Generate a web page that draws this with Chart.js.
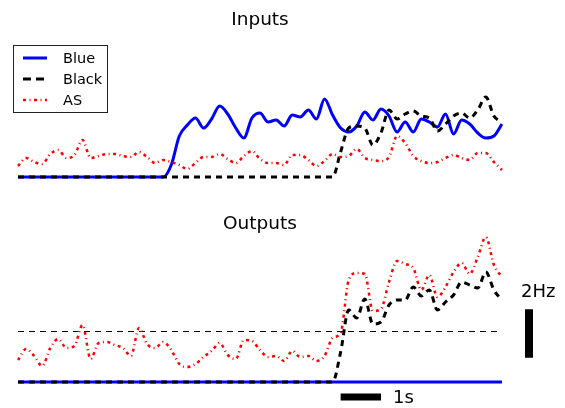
<!DOCTYPE html>
<html><head><meta charset="utf-8">
<script src="https://cdn.jsdelivr.net/npm/chart.js@4/dist/chart.umd.min.js"></script>
<style>html,body{margin:0;padding:0;background:#fff}canvas{display:block}</style>
</head><body>
<canvas id="c" width="565" height="408"></canvas>
<script>
// time in seconds
const timeS = [0,0.2,0.4,0.6,0.8,1.0,1.2,1.4,1.6,1.8,2.0,2.2,2.4,2.6,2.8,3.0,3.2,3.4,3.6,3.8,
  4.0,4.2,4.4,4.6,4.8,5.0,5.2,5.4,5.6,5.8,6.0,6.2,6.4,6.6,6.8,7.0,7.2,7.4,7.6,7.8,
  8.0,8.2,8.4,8.6,8.8,9.0,9.2,9.4,9.6,9.8,10.0,10.2,10.4,10.6,10.8,11.0,11.2,11.4,11.6,11.8,12.0];

// Inputs panel
const blueIn = [0,0,0,0,0,0,0,0,0,0,0,0,0,0,0,0,0,0,0,0.48,
  1.64,2.08,2.36,1.96,2.32,2.84,2.52,1.96,1.56,2.36,2.56,2.2,2.28,2.04,2.48,2.4,2.68,2.32,3.12,2.48,
  1.96,1.8,2.04,2.6,2.28,2.72,2.44,1.8,2.2,1.8,2.32,2.2,2.0,2.52,1.72,2.28,2.12,1.76,1.56,1.64,2.12];
const blackIn = [0,0,0,0,0,0,0,0,0,0,0,0,0,0,0,0,0,0,0,0,
  0,0,0,0,0,0,0,0,0,0,0,0,0,0,0,0,0,0,0,0,
  1.0,1.96,2.04,1.96,1.28,1.76,2.68,2.32,2.52,2.64,2.44,2.36,1.84,2.12,2.44,2.56,2.36,2.68,3.2,2.44,2.2];
const asIn = [0.44,0.76,0.6,0.52,0.92,1.08,0.76,0.88,1.48,0.76,0.84,0.92,0.92,0.84,0.8,1.0,0.8,0.56,0.68,0.6,
  0.48,0.32,0.56,0.8,0.8,0.92,0.72,0.56,0.84,1.04,0.72,0.56,0.56,0.48,0.88,0.88,0.68,0.44,0.64,0.92,
  0.8,0.84,1.12,0.76,0.68,0.64,0.8,1.64,1.36,0.84,0.64,0.56,0.6,0.76,0.88,0.76,0.68,0.96,0.96,0.6,0.28];

// Outputs panel (Hz)
const blueOut = [0,0,0,0,0,0,0,0,0,0,0,0,0,0,0,0,0,0,0,0,
  0,0,0,0,0,0,0,0,0,0,0,0,0,0,0,0,0,0,0,0,
  0,0,0,0,0,0,0,0,0,0,0,0,0,0,0,0,0,0,0,0,0];
const blackOut = [0,0,0,0,0,0,0,0,0,0,0,0,0,0,0,0,0,0,0,0,
  0,0,0,0,0,0,0,0,0,0,0,0,0,0,0,0,0,0,0,0,
  1.2,2.88,2.56,3.32,2.32,2.4,3.08,3.28,3.28,3.8,3.44,3.68,2.88,3.2,3.48,4.0,3.88,3.76,4.4,3.68,3.28];
const asOut = [0.88,1.32,1.04,0.64,1.36,1.72,1.36,1.44,2.28,0.92,1.56,1.6,1.48,1.36,1.04,2.16,1.52,1.36,1.6,1.28,
  0.72,0.6,0.72,1.0,1.24,1.56,1.08,0.92,1.68,1.64,1.28,1.0,1.04,0.84,1.24,1.0,1.04,0.84,1.04,1.76,
  1.96,4.08,4.36,4.32,2.84,2.92,4.0,4.84,4.72,4.56,3.68,4.28,3.4,3.8,4.4,4.76,4.32,5.0,5.8,4.68,4.2];

const thresholdHz = 2.02;
const thresholdSpan = [0, 12];
// scale bars: 2 Hz vertical, 1 s horizontal
const hzBarX = 12.67, hzBarY = [0.97, 2.91];
const secBarX = [8, 9], secBarY = -0.6;

const seriesLabels = ['Blue', 'Black', 'AS'];
const panelTitles = ['Inputs', 'Outputs'];

const pts = (arr) => arr.map((v, i) => ({x: timeS[i], y: v}));

const BLUE = 'rgb(0,0,255)', BLACK = '#000', RED = 'rgb(255,0,0)';
const blackDash = [6, 5], asDash = [3, 3.5, 1, 3.5];

const common = {pointRadius: 0, fill: false, cubicInterpolationMode: 'monotone', borderCapStyle: 'butt'};

const datasets = [
  Object.assign({label: 'Blue in', data: pts(blueIn), yAxisID: 'yIn', borderColor: BLUE, borderWidth: 3, order: 3}, common),
  Object.assign({label: 'Black in', data: pts(blackIn), yAxisID: 'yIn', borderColor: BLACK, borderWidth: 3, borderDash: blackDash, order: 2}, common),
  Object.assign({label: 'AS in', data: pts(asIn), yAxisID: 'yIn', borderColor: RED, borderWidth: 2.5, borderDash: asDash, order: 1}, common),
  Object.assign({label: 'Blue out', data: pts(blueOut), yAxisID: 'yOut', borderColor: BLUE, borderWidth: 3, order: 3}, common),
  Object.assign({label: 'Black out', data: pts(blackOut), yAxisID: 'yOut', borderColor: BLACK, borderWidth: 3, borderDash: blackDash, order: 2}, common),
  Object.assign({label: 'AS out', data: pts(asOut), yAxisID: 'yOut', borderColor: RED, borderWidth: 2.5, borderDash: asDash, order: 1}, common),
  {label: 'threshold', data: thresholdSpan.map(x => ({x, y: thresholdHz})), yAxisID: 'yOut', borderColor: BLACK, borderWidth: 1, borderDash: [6, 5], pointRadius: 0, order: 4},
  {label: '2Hz bar', data: hzBarY.map(y => ({x: hzBarX, y})), yAxisID: 'yOut', borderColor: BLACK, borderWidth: 8, borderCapStyle: 'butt', pointRadius: 0, order: 5},
  {label: '1s bar', data: secBarX.map(x => ({x, y: secBarY})), yAxisID: 'yOut', borderColor: BLACK, borderWidth: 7, borderCapStyle: 'butt', pointRadius: 0, order: 5}
];

const FONT = '"DejaVu Sans", sans-serif';

const overlay = {
  id: 'overlay',
  afterDatasetsDraw(chart) {
    const ctx = chart.ctx;
    const xs = chart.scales.x, yi = chart.scales.yIn, yo = chart.scales.yOut;
    ctx.save();
    ctx.fillStyle = '#000';
    ctx.textBaseline = 'alphabetic';
    ctx.textAlign = 'center';
    ctx.font = '18.5px ' + FONT;
    ctx.fillText(panelTitles[0], xs.getPixelForValue(6), yi.getPixelForValue(6.08));
    ctx.fillText(panelTitles[1], xs.getPixelForValue(6), yo.getPixelForValue(6.12));
    // scale bar labels
    ctx.textAlign = 'left';
    ctx.font = '18px ' + FONT;
    ctx.fillText('2Hz', xs.getPixelForValue(hzBarX) - 8, yo.getPixelForValue(3.4));
    ctx.fillText('1s', xs.getPixelForValue(secBarX[1]) + 12, yo.getPixelForValue(-0.84));
    // legend
    const bx = 13.5, by = 45.5, bw = 94, bh = 67;
    ctx.fillStyle = '#fff';
    ctx.fillRect(bx, by, bw, bh);
    ctx.strokeStyle = '#222';
    ctx.lineWidth = 1;
    ctx.strokeRect(bx, by, bw, bh);
    const styles = [
      {c: BLUE, w: 3, d: []},
      {c: BLACK, w: 3, d: [8, 5]},
      {c: RED, w: 2.5, d: asDash}
    ];
    const rows = [58, 79, 100];
    ctx.font = '14.5px ' + FONT;
    ctx.textBaseline = 'middle';
    seriesLabels.forEach((lab, i) => {
      const s = styles[i];
      ctx.beginPath();
      ctx.setLineDash(s.d);
      ctx.lineCap = 'butt';
      ctx.strokeStyle = s.c;
      ctx.lineWidth = s.w;
      ctx.moveTo(23, rows[i]);
      ctx.lineTo(47, rows[i]);
      ctx.stroke();
      ctx.setLineDash([]);
      ctx.fillStyle = '#000';
      ctx.fillText(lab, 63, rows[i] + 1);
    });
    ctx.restore();
  }
};

new Chart(document.getElementById('c'), {
  type: 'line',
  data: {datasets},
  options: {
    responsive: false,
    animation: false,
    devicePixelRatio: 1,
    layout: {padding: 0},
    plugins: {legend: {display: false}, tooltip: {enabled: false}, title: {display: false}},
    scales: {
      x: {type: 'linear', min: -18 / 40.33, max: (565 - 18) / 40.33, display: false},
      yIn: {type: 'linear', min: -9.24, max: 7.08, display: false},
      yOut: {type: 'linear', min: -1.04, max: 15.28, display: false}
    }
  },
  plugins: [overlay]
});
</script>
</body></html>
